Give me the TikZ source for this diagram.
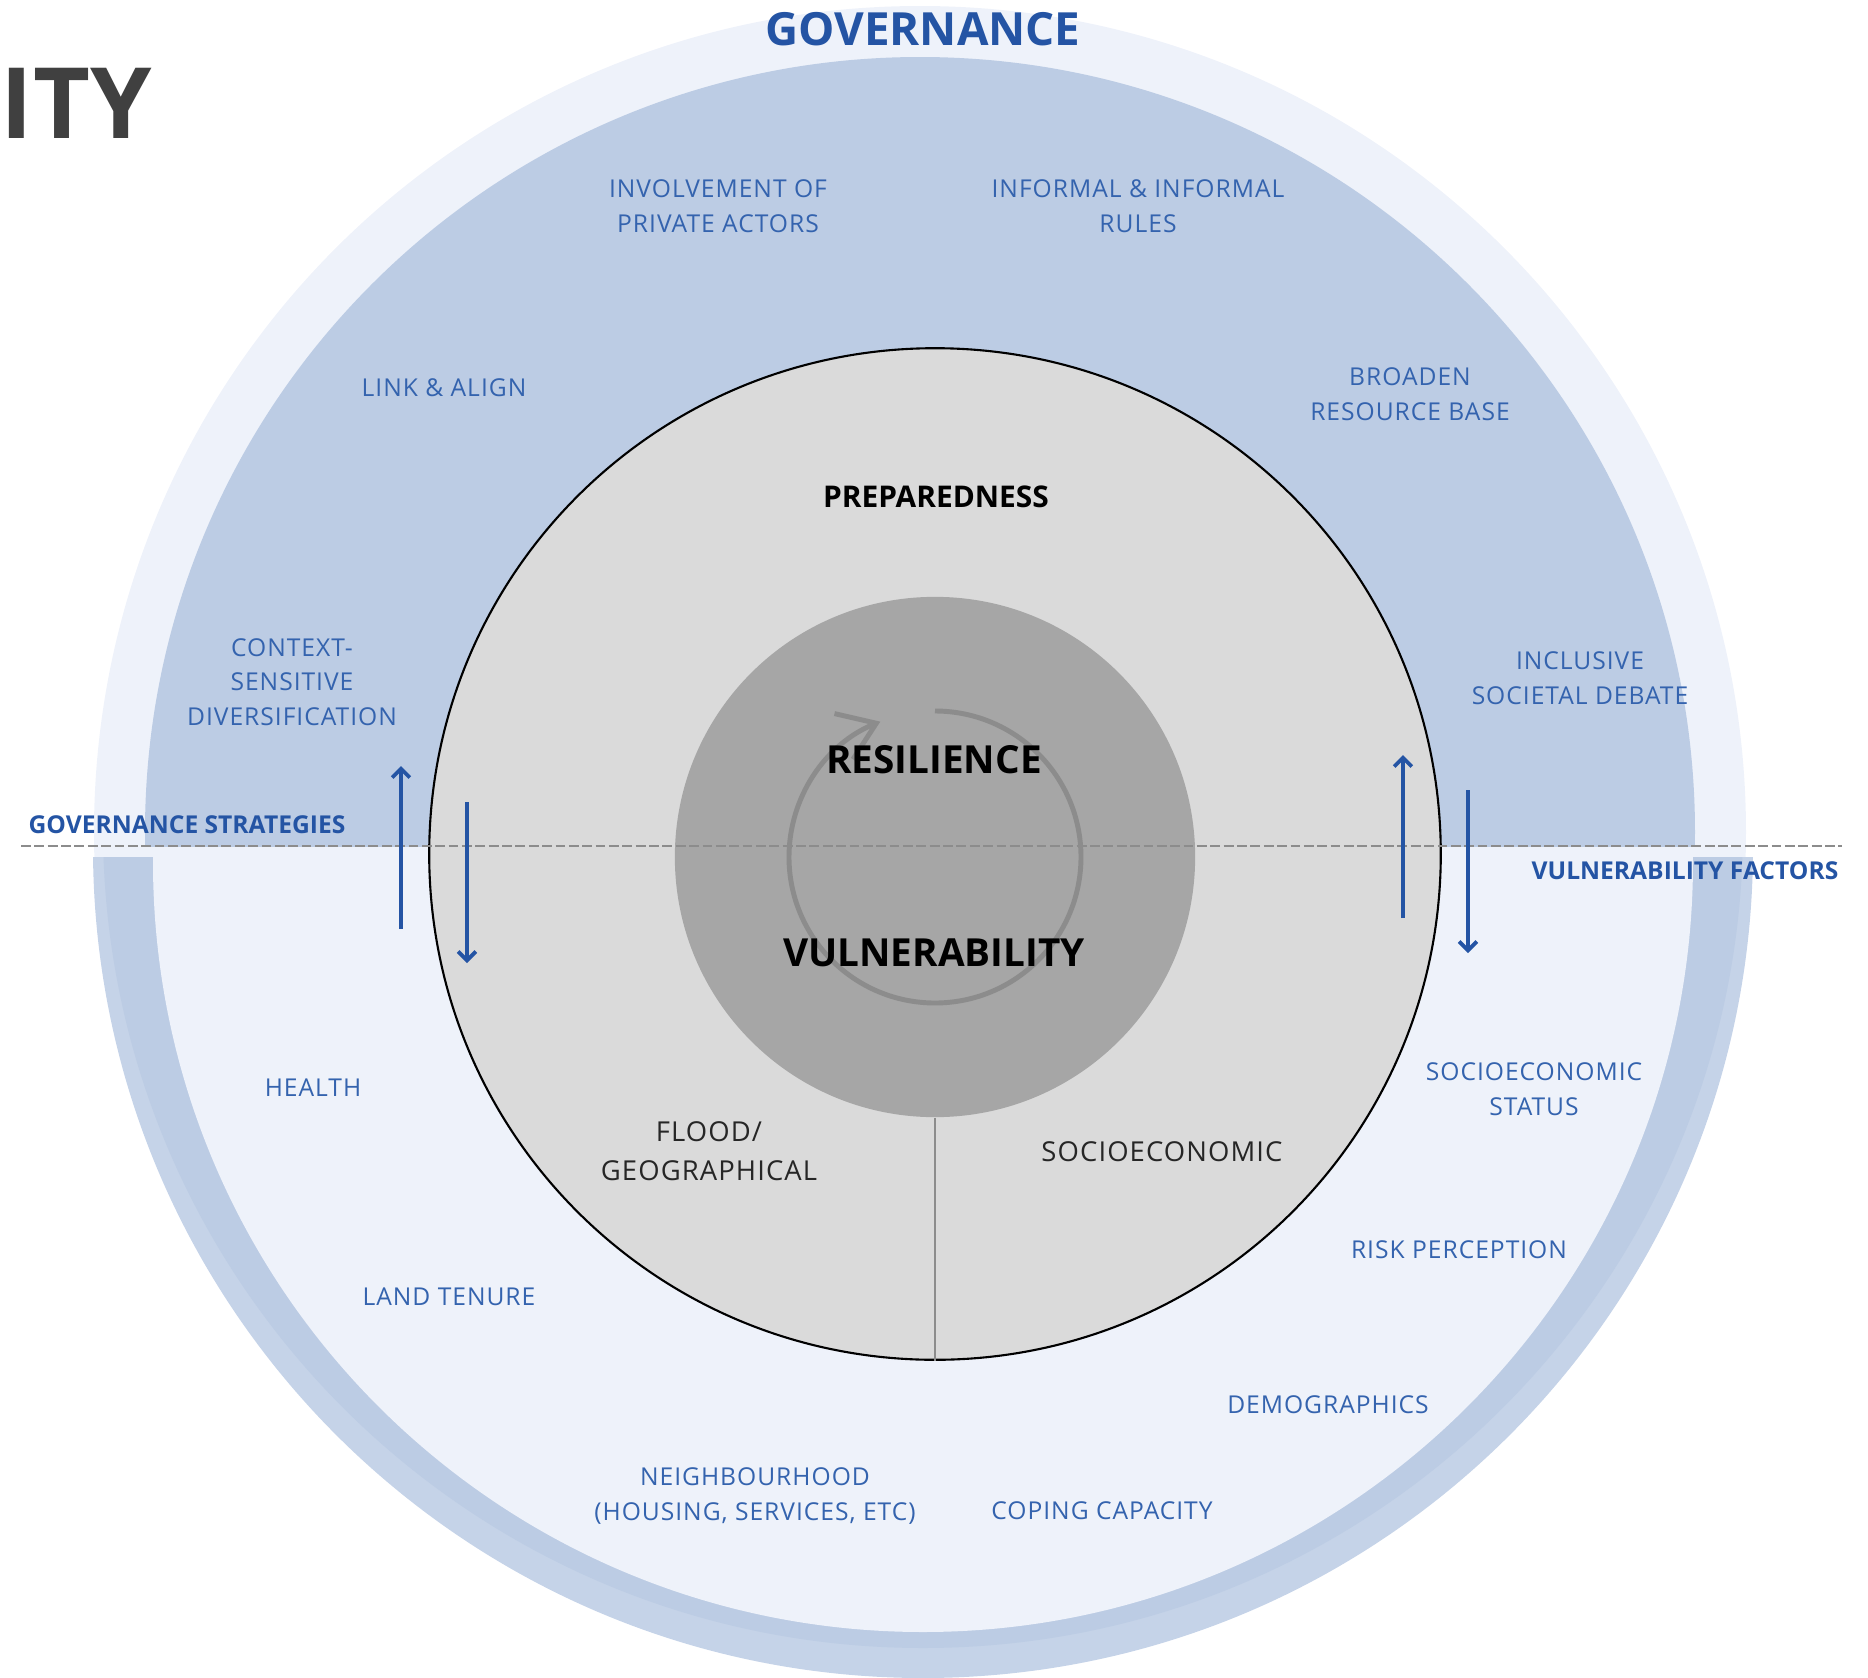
\documentclass[tikz,border=0pt]{standalone}
\usepackage{fontspec}
\setmainfont{Open Sans}
\newfontfamily\spacedfont[LetterSpace=4]{Open Sans}
\usetikzlibrary{arrows.meta}
\definecolor{govlight}{HTML}{EEF2FA}
\definecolor{govblue}{HTML}{BCCCE4}
\definecolor{ringtone}{HTML}{C5D3E8}
\definecolor{discgrey}{HTML}{DADADA}
\definecolor{kerngrey}{HTML}{A6A6A6}
\definecolor{turngrey}{HTML}{8C8C8C}
\definecolor{labblue}{HTML}{3463AE}
\definecolor{headblue}{HTML}{2454A4}
\definecolor{titlegrey}{HTML}{404040}
\tikzstyle{lab} = [text=labblue, align=center, inner sep=0pt,
    font=\spacedfont\fontsize{7}{9.8}\selectfont]
\tikzstyle{head} = [text=headblue, inner sep=0pt, font=\bfseries\fontsize{7}{8}\selectfont]
\tikzstyle{core} = [text=black, inner sep=0pt, font=\bfseries\fontsize{11}{13}\selectfont]
\tikzstyle{sector} = [text=black!85, align=center, inner sep=0pt,
    font=\spacedfont\fontsize{7.8}{11.2}\selectfont]
\tikzstyle{disc} = [circle, draw=black, line width=0.6pt, fill=discgrey, inner sep=0pt,
    minimum size=10.11cm]
\tikzstyle{kern} = [circle, fill=kerngrey, inner sep=0pt, minimum size=5.2cm]
\tikzstyle{axis} = [draw=turngrey, line width=0.7pt, dash pattern=on 2.8pt off 1pt]
\tikzstyle{line} = [draw=headblue, line width=1.1pt, -{Straight Barb[length=2.5pt,width=5pt]}]
\tikzstyle{turn} = [draw=turngrey, line width=1.4pt, -{Straight Barb[length=10pt,width=14pt]}]

\begin{document}
\begin{tikzpicture}[x=0.01cm, y=-0.01cm]
 \useasboundingbox (0,0) rectangle (1868,1678);
 \begin{scope}
  \clip (0,0) rectangle (1868,857);
  \fill [govlight] (920,832) circle [radius=826];
 \end{scope}
 \begin{scope}
  \clip (0,857) rectangle (1868,1678);
  \fill [ringtone] (923,848) circle [radius=830];
  \fill [govblue] (923,828) circle [radius=820];
 \end{scope}
 \begin{scope}
  \clip (0,846) rectangle (1868,1678);
  \fill [govlight] (923,862) circle [radius=770];
 \end{scope}
 \begin{scope}
  \clip (0,0) rectangle (1868,846);
  \fill [govblue] (920,832) circle [radius=775];
 \end{scope}
 \node at (935,854) [disc, name=pcircle] {};
 \node at (935,857) [kern, name=kern] {};
 \draw [turngrey, line width=0.45pt] (kern.south) -- (pcircle.south);
 \path [turn] (kern.center) ++(0,-146) arc [start angle=-90, end angle=248, radius=146];
 \coordinate (axisW) at (21,846);
 \coordinate (axisE) at (1842,846);
 \path [axis] (axisW) -- (axisE);
 \coordinate (gsUpA) at (401,929);
 \coordinate (gsUpB) at (401,766);
 \coordinate (gsDownA) at (467,802);
 \coordinate (gsDownB) at (467,963);
 \coordinate (vfUpA) at (1403,918);
 \coordinate (vfUpB) at (1403,755);
 \coordinate (vfDownA) at (1468,790);
 \coordinate (vfDownB) at (1468,953);
 \path [line] (gsUpA) -- (gsUpB);
 \path [line] (gsDownA) -- (gsDownB);
 \path [line] (vfUpA) -- (vfUpB);
 \path [line] (vfDownA) -- (vfDownB);
 \node at (923,29) [head, name=gov, font=\bfseries\fontsize{13}{15}\selectfont] {GOVERNANCE};
 \node at (187,825) [head, name=strat] {GOVERNANCE STRATEGIES};
 \node at (1685,871) [head, name=factors] {VULNERABILITY FACTORS};
 \node at (718,206) [lab, name=private] {INVOLVEMENT OF\\PRIVATE ACTORS};
 \node at (1138,206) [lab, name=rules] {INFORMAL \& INFORMAL\\RULES};
 \node at (444,388) [lab, name=link] {LINK \& ALIGN};
 \node at (1410,394) [lab, name=broaden] {BROADEN\\RESOURCE BASE};
 \node at (292,682) [lab, name=context] {CONTEXT-\\SENSITIVE\\DIVERSIFICATION};
 \node at (1580,678) [lab, name=debate] {INCLUSIVE\\SOCIETAL DEBATE};
 \node at (313,1088) [lab, name=health] {HEALTH};
 \node at (1534,1089) [lab, name=status] {SOCIOECONOMIC\\STATUS};
 \node at (1459,1250) [lab, name=risk] {RISK PERCEPTION};
 \node at (449,1297) [lab, name=tenure] {LAND TENURE};
 \node at (1328,1405) [lab, name=demo] {DEMOGRAPHICS};
 \node at (755,1496) [lab, name=hood] {NEIGHBOURHOOD\\(HOUSING, SERVICES, ETC)};
 \node at (1102,1511) [lab, name=coping] {COPING CAPACITY};
 \node at (936,497) [core, name=prep, font=\bfseries\fontsize{8.5}{10}\selectfont] {PREPAREDNESS};
 \node at (934,760) [core, name=res] {RESILIENCE};
 \node [core, below of=res, node distance=1.93cm] (vul) {VULNERABILITY};
 \node at (709,1151) [sector, name=flood] {FLOOD/\\GEOGRAPHICAL};
 \node at (1162,1152) [sector, name=socio] {SOCIOECONOMIC};
 \node at (0,138) [anchor=base west, inner sep=0pt, text=titlegrey,
     font=\bfseries\fontsize{28}{32}\selectfont, name=title] {ITY};
\end{tikzpicture}
\end{document}
